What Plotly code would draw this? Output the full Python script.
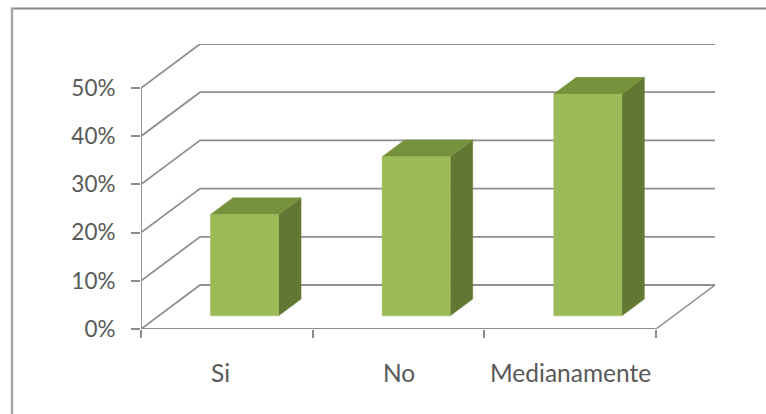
import plotly.graph_objects as go

# Survey results
categories = ["Si", "No", "Medianamente"]
values = [21, 33, 46]
y_ticks = [0, 10, 20, 30, 40, 50]
y_tick_labels = ["0%", "10%", "20%", "30%", "40%", "50%"]
label_positions = [0.466, 1.503, 2.5]

WIDTH, HEIGHT = 766, 414
LEFT, RIGHT, TOP, BOTTOM = 141, 715, 44, 329

# Oblique projection: depth of the floor expressed in axis units
DEPTH_X = 0.344
DEPTH_Y = 9.13
BAR_WIDTH = 0.397
BAR_FRONT = 0.30
BAR_BACK = 0.68

GRID = "#8f8f8f"
AXIS = "#8c8c8c"
TEXT = "#595959"
FONT = "Lato"
FRONT, SIDE, CAP = "#9bbb59", "#627832", "#76923c"

fig = go.Figure()


def polygon(xs, ys, color):
    fig.add_trace(go.Scatter(
        x=xs, y=ys, mode="lines", fill="toself", fillcolor=color,
        line=dict(color=color, width=0.5), hoverinfo="skip",
        showlegend=False, cliponaxis=False,
    ))


def polyline(xs, ys, color, width):
    fig.add_trace(go.Scatter(
        x=xs, y=ys, mode="lines", line=dict(color=color, width=width),
        hoverinfo="skip", showlegend=False, cliponaxis=False,
    ))


n = len(categories)

# Back wall gridlines with their diagonals on the side wall
for tick in y_ticks:
    polyline([0, DEPTH_X, n + DEPTH_X], [tick, tick + DEPTH_Y, tick + DEPTH_Y], GRID, 1.8)

# Floor edges and value axis
polyline([n, n + DEPTH_X], [0, DEPTH_Y], GRID, 1.5)
polyline([0, n], [0, 0], AXIS, 1.8)
polyline([0, 0], [0, y_ticks[-1]], AXIS, 1.8)

# Bars: side, cap and front faces
for i, value in enumerate(values):
    x0 = i + 0.5 - BAR_WIDTH / 2
    x1 = i + 0.5 + BAR_WIDTH / 2
    fx, fy = DEPTH_X * BAR_FRONT, DEPTH_Y * BAR_FRONT
    bx, by = DEPTH_X * BAR_BACK, DEPTH_Y * BAR_BACK
    polygon([x1 + fx, x1 + bx, x1 + bx, x1 + fx, x1 + fx],
            [fy, by, value + by, value + fy, fy], SIDE)
    polygon([x0 + fx, x1 + fx, x1 + bx, x0 + bx, x0 + fx],
            [value + fy, value + fy, value + by, value + by, value + fy], CAP)
    polygon([x0 + fx, x1 + fx, x1 + fx, x0 + fx, x0 + fx],
            [fy, fy, value + fy, value + fy, fy], FRONT)

plot_w = RIGHT - LEFT
plot_h = BOTTOM - TOP


def paper_x(px):
    return (px - LEFT) / plot_w


def paper_y(px):
    return (BOTTOM - px) / plot_h


# Chart frame: only the top and left edges are visible
fig.add_shape(type="line", xref="paper", yref="paper",
              x0=paper_x(11), x1=paper_x(766), y0=paper_y(8.5), y1=paper_y(8.5),
              line=dict(color="#8a8a8a", width=2))
fig.add_shape(type="line", xref="paper", yref="paper",
              x0=paper_x(12), x1=paper_x(12), y0=paper_y(8), y1=paper_y(414),
              line=dict(color="#a6a6a6", width=2.5))

annotations = [
    dict(x=pos, y=0, xref="x", yref="paper", text=name, showarrow=False,
         xanchor="center", yanchor="middle", yshift=-43,
         font=dict(family=FONT, size=24.5, color=TEXT))
    for pos, name in zip(label_positions, categories)
]

fig.update_layout(
    width=WIDTH, height=HEIGHT,
    margin=dict(l=LEFT, r=WIDTH - RIGHT, t=TOP, b=HEIGHT - BOTTOM, pad=0),
    paper_bgcolor="white", plot_bgcolor="white",
    showlegend=False,
    annotations=annotations,
    xaxis=dict(
        range=[0, n + DEPTH_X], tickmode="array", tickvals=list(range(n + 1)),
        ticktext=[""] * (n + 1), ticks="outside", ticklen=8, tickwidth=1.5,
        tickcolor=AXIS, showgrid=False, zeroline=False, showline=False,
    ),
    yaxis=dict(
        range=[0, y_ticks[-1] + DEPTH_Y], tickmode="array", tickvals=y_ticks,
        ticktext=y_tick_labels, ticks="outside", ticklen=9, tickwidth=1.5,
        tickcolor=AXIS, ticklabelstandoff=11, showgrid=False, zeroline=False,
        showline=False, tickfont=dict(family=FONT, size=22.5, color=TEXT),
    ),
)

fig.write_html("out.html")
